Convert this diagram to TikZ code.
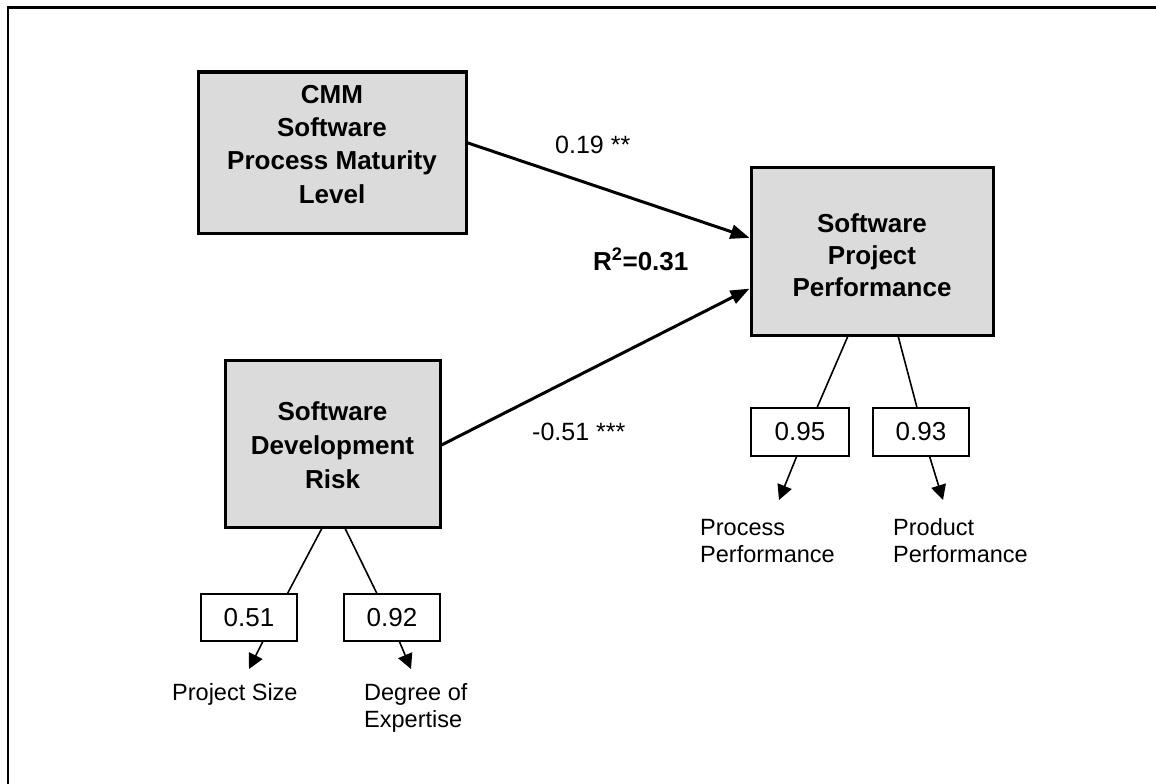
\documentclass[tikz,border=0pt]{standalone}
\usepackage{fontspec}
\setmainfont{Liberation Sans}
\usetikzlibrary{arrows.meta,calc}
\tikzset{
  construct/.style={draw, line width=3pt, fill=black!14, inner sep=0pt,
    font=\fontsize{26}{33}\selectfont\bfseries},
  loadbox/.style={draw, line width=1.6pt, fill=white, inner sep=0pt,
    minimum width=96pt, minimum height=47pt, font=\fontsize{26}{30}\selectfont},
  causal/.style={line width=3pt, -{Triangle[length=19pt,width=14pt]}},
  loadline/.style={line width=1.6pt},
  loadarrow/.style={line width=1.6pt, -{Triangle[length=15pt,width=15pt]}},
  coef/.style={inner sep=0pt, anchor=base west, font=\fontsize{25}{30}\selectfont},
  indicator/.style={inner sep=0pt, anchor=base west, font=\fontsize{23.5}{27}\selectfont},
}
% centred block of lines, shifted vertically without changing its size
\newcommand{\stack}[2]{\raisebox{#1}[\height][\depth]{\begin{tabular}{@{}c@{}}#2\end{tabular}}}
\newcommand{\leftstack}[1]{\begin{tabular}[t]{@{}l@{}}#1\end{tabular}}
\begin{document}
\begin{tikzpicture}[x=1pt,y=-1pt]
\useasboundingbox (0,0) rectangle (1156,784);

% frame
\draw[line width=2.5pt] (8,784) -- (8,7.5) -- (1156,7.5);

% latent constructs
\node[construct, minimum width=268pt, minimum height=161pt,
      font=\fontsize{26}{33.3}\selectfont\bfseries] (cmm) at (332,152.5)
  {\stack{6pt}{CMM\\Software\\Process Maturity\\Level}};
\node[construct, minimum width=242pt, minimum height=168pt,
      font=\fontsize{26}{32}\selectfont\bfseries] (spp) at (872,251)
  {\stack{-7.5pt}{Software\\Project\\Performance}};
\node[construct, minimum width=215pt, minimum height=167pt,
      font=\fontsize{26}{34}\selectfont\bfseries] (sdr) at (332.5,443.5)
  {\stack{-4pt}{Software\\Development\\Risk}};

% loadings
\node[loadbox] (l051) at (249,617.5) {0.51};
\node[loadbox] (l092) at (392,617.5) {0.92};
\node[loadbox, minimum width=98pt, minimum height=48pt] (l095) at (800,432) {0.95};
\node[loadbox, minimum height=48pt] (l093) at (921,432) {0.93};

% indicator tips
\coordinate (tsize) at (249,669);
\coordinate (texp)  at (411,669);
\coordinate (tproc) at (779,500);
\coordinate (tprod) at (943,500);

% structural paths
\draw[causal] ($(cmm.north east)!0.441!(cmm.south east)$) -- ($(spp.north west)!0.423!(spp.south west)$);
\draw[causal] ($(sdr.north east)!0.509!(sdr.south east)$) -- ($(spp.north west)!0.72!(spp.south west)$);

% measurement paths
\draw[loadline] ($(sdr.south west)!0.451!(sdr.south east)$) -- ($(l051.north west)!0.896!(l051.north east)$);
\draw[loadarrow] ($(l051.south west)!0.64!(l051.south east)$) -- (tsize);
\draw[loadline] ($(sdr.south west)!0.558!(sdr.south east)$) -- ($(l092.north west)!0.344!(l092.north east)$);
\draw[loadarrow] ($(l092.south west)!0.577!(l092.south east)$) -- (texp);
\draw[loadline] ($(spp.south west)!0.401!(spp.south east)$) -- ($(l095.north west)!0.673!(l095.north east)$);
\draw[loadarrow] ($(l095.south west)!0.465!(l095.south east)$) -- (tproc);
\draw[loadline] ($(spp.south west)!0.607!(spp.south east)$) -- ($(l093.north west)!0.458!(l093.north east)$);
\draw[loadarrow] ($(l093.south west)!0.589!(l093.south east)$) -- (tprod);

% coefficients
\node[coef] (c1) at (555,153) {0.19 **};
\node[coef, font=\fontsize{26}{30}\selectfont\bfseries] (r2) at (593,270) {R\textsuperscript{2}=0.31};
\node[coef] (c2) at (532,440) {-0.51 ***};

% indicator names
\node[indicator] (nsize) at (172,700) {Project Size};
\node[indicator] (nexp)  at (364,700) {\leftstack{Degree of\\Expertise}};
\node[indicator] (nproc) at (700,535) {\leftstack{Process\\Performance}};
\node[indicator] (nprod) at (893,535) {\leftstack{Product\\Performance}};
\end{tikzpicture}
\end{document}
